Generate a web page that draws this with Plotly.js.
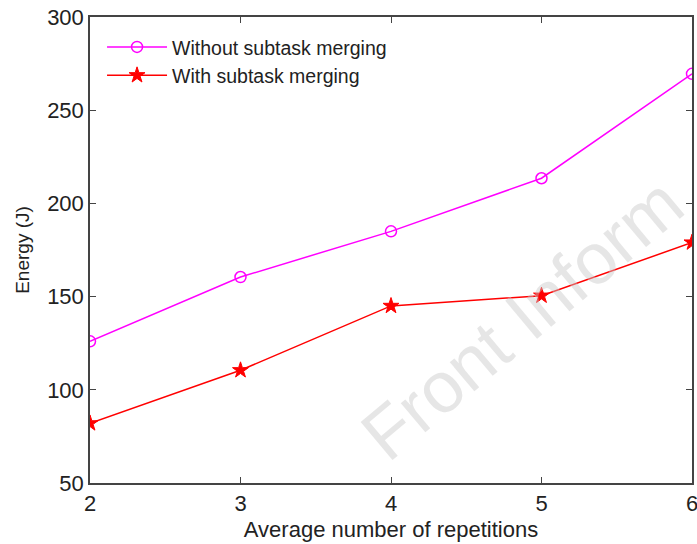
<!DOCTYPE html>
<html><head><meta charset="utf-8">
<script src="https://cdn.plot.ly/plotly-3.0.1.min.js"></script>
<style>html,body{margin:0;padding:0;background:#fff;}</style>
</head><body>
<div id="chart" style="width:697px;height:544px;"></div>
<script>
const repetitions = [2, 3, 4, 5, 6];
const withoutMerging = [126, 160.5, 185, 213.5, 269.5];
const withMerging = [82, 110.5, 145, 150.5, 179];
const yTicks = [50, 100, 150, 200, 250, 300];
const xTicks = [2, 3, 4, 5, 6];

const font = "Liberation Sans, Arial, sans-serif";
const traces = [
  {x: repetitions, y: withoutMerging, name: "Without subtask merging", type: "scatter", mode: "lines+markers",
   line: {color: "#ff00ff", width: 1.5}, marker: {symbol: "circle-open", size: 11, color: "#ff00ff", line: {width: 1.5}}},
  {x: repetitions, y: withMerging, name: "With subtask merging", type: "scatter", mode: "lines+markers",
   line: {color: "#ff0000", width: 1.5}, marker: {symbol: "star", size: 12, color: "#ff0000", line: {width: 1, color: "#ff0000"}}}
];
const layout = {
  width: 697, height: 544,
  margin: {l: 90, r: 5, t: 17, b: 61},
  paper_bgcolor: "#fff", plot_bgcolor: "#fff",
  font: {family: font, color: "#222"},
  showlegend: true,
  legend: {x: 0.02, y: 0.977, xanchor: "left", yanchor: "top", bgcolor: "rgba(255,255,255,0)",
    font: {size: 19.5, family: font, color: "#222"}, tracegroupgap: 0, itemwidth: 60},
  xaxis: {range: [2, 6], tickvals: xTicks, ticktext: xTicks.map(String), ticks: "inside", ticklen: 6,
    ticklabeloverflow: "allow",
    tickcolor: "#444", showline: true, linecolor: "#444", linewidth: 1.5, mirror: "ticks", showgrid: false, zeroline: false,
    tickfont: {size: 22, family: font, color: "#222"},
    title: {text: "Average number of repetitions", font: {size: 22, family: font, color: "#222"}, standoff: 6}},
  yaxis: {range: [50, 300], tickvals: yTicks, ticktext: yTicks.map(String), ticks: "inside", ticklen: 6,
    tickcolor: "#444", showline: true, linecolor: "#444", linewidth: 1.5, mirror: "ticks", showgrid: false, zeroline: false,
    tickfont: {size: 22, family: font, color: "#222"},
    title: {text: "Energy (J)", font: {size: 19, family: font, color: "#222"}, standoff: 12}},
  annotations: [{text: "Front Inform", xref: "paper", yref: "paper", x: 0.42, y: 0.01, xanchor: "left", yanchor: "bottom",
    showarrow: false, textangle: -40, font: {size: 72, family: font, color: "rgba(200,200,200,0.45)"}}]
};
Plotly.newPlot("chart", traces, layout, {displayModeBar: false});
</script>
</body></html>
